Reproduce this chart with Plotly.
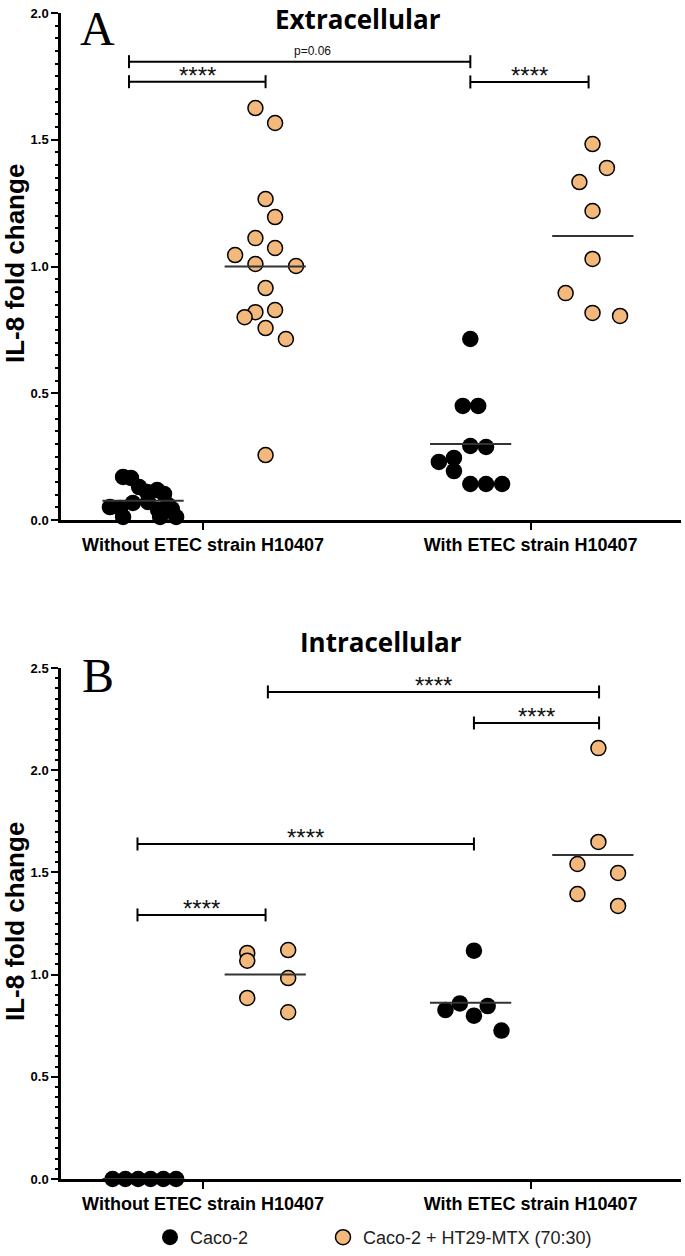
import plotly.graph_objects as go

W, H = 685, 1256

categories = ["Without ETEC strain H10407", "With ETEC strain H10407"]
series_names = ["Caco-2", "Caco-2 + HT29-MTX (70:30)"]
panel_titles = ["Extracellular", "Intracellular"]
panel_letters = ["A", "B"]
y_title = "IL-8 fold change"

# ---------------- Panel A : Extracellular ----------------
a_caco_without_x = [0.756, 0.780, 0.805, 0.829, 0.860, 0.881, 0.716, 0.747, 0.786,
                    0.832, 0.893, 0.863, 0.756, 0.869, 0.918, 0.905]
a_caco_without_y = [0.170, 0.166, 0.130, 0.110, 0.118, 0.103, 0.051, 0.047, 0.067,
                    0.071, 0.059, 0.039, 0.012, 0.012, 0.012, 0.043]
a_mix_without_x = [1.160, 1.220, 1.191, 1.220, 1.160, 1.220, 1.098, 1.160, 1.284,
                   1.191, 1.160, 1.220, 1.127, 1.191, 1.253, 1.191]
a_mix_without_y = [1.625, 1.566, 1.266, 1.195, 1.112, 1.073, 1.045, 1.010, 1.002,
                   0.915, 0.820, 0.828, 0.800, 0.757, 0.714, 0.256]
a_caco_with_x = [1.816, 1.793, 1.840, 1.816, 1.864, 1.766, 1.720, 1.766, 1.816, 1.864, 1.913]
a_caco_with_y = [0.714, 0.450, 0.450, 0.292, 0.288, 0.245, 0.229, 0.193, 0.142, 0.142, 0.142]
a_mix_with_x = [2.189, 2.233, 2.149, 2.189, 2.189, 2.107, 2.189, 2.273]
a_mix_with_y = [1.483, 1.389, 1.333, 1.219, 1.030, 0.895, 0.817, 0.805]
a_means = [0.076, 1.00, 0.30, 1.12]   # caco/without, mix/without, caco/with, mix/with

a_br_x0 = [0.774, 0.774, 1.816]
a_br_x1 = [1.816, 1.191, 2.177]
a_br_y = [1.808, 1.729, 1.728]
a_br_label = ["p=0.06", "****", "****"]
a_br_label_x = [1.333, 0.983, 1.996]

# ---------------- Panel B : Intracellular ----------------
b_caco_without_x = [0.724, 0.763, 0.802, 0.840, 0.879, 0.918]
b_caco_without_y = [0.0, 0.0, 0.0, 0.0, 0.0, 0.0]
b_mix_without_x = [1.135, 1.135, 1.260, 1.260, 1.135, 1.260]
b_mix_without_y = [1.106, 1.068, 1.120, 0.983, 0.886, 0.816]
b_caco_with_x = [1.827, 1.784, 1.869, 1.740, 1.827, 1.911]
b_caco_with_y = [1.117, 0.859, 0.846, 0.827, 0.799, 0.726]
b_mix_with_x = [2.207, 2.207, 2.143, 2.267, 2.143, 2.267]
b_mix_with_y = [2.108, 1.649, 1.541, 1.497, 1.394, 1.336]
b_means = [0.0, 1.00, 0.862, 1.585]

b_br_x0 = [1.198, 1.827, 0.800, 0.800]
b_br_x1 = [2.209, 2.209, 1.827, 1.191]
b_br_y = [2.383, 2.231, 1.639, 1.292]
b_br_label = ["****", "****", "****", "****"]
b_br_label_x = [1.703, 2.018, 1.313, 0.996]

# ---------------- styling ----------------
BLACK = "#000000"
ORANGE = "#F3B87C"
SANS = "Liberation Sans, Arial, sans-serif"
group_offset = [-0.183, 0.19, -0.183, 0.19]
group_cat = [1, 1, 2, 2]
half_w = 0.124

fig = go.Figure()

panels = [
    dict(ax="", groups=[(a_caco_without_x, a_caco_without_y, 0), (a_mix_without_x, a_mix_without_y, 1),
                        (a_caco_with_x, a_caco_with_y, 0), (a_mix_with_x, a_mix_with_y, 1)],
         means=a_means, br=(a_br_x0, a_br_x1, a_br_y, a_br_label, a_br_label_x)),
    dict(ax="2", groups=[(b_caco_without_x, b_caco_without_y, 0), (b_mix_without_x, b_mix_without_y, 1),
                         (b_caco_with_x, b_caco_with_y, 0), (b_mix_with_x, b_mix_with_y, 1)],
         means=b_means, br=(b_br_x0, b_br_x1, b_br_y, b_br_label, b_br_label_x)),
]

legend_ids = ["legend", "legend2"]
shown = set()
for p in panels:
    xa, ya = "x" + p["ax"], "y" + p["ax"]
    for gi, (gx, gy, s) in enumerate(p["groups"]):
        if s == 0:
            marker = dict(color=BLACK, size=16.5, line=dict(width=0))
        else:
            marker = dict(color=ORANGE, size=15, line=dict(color=BLACK, width=1.5))
        fig.add_trace(go.Scatter(
            x=gx, y=gy, mode="markers", marker=marker, xaxis=xa, yaxis=ya,
            name=series_names[s], legendgroup=series_names[s], legend=legend_ids[s],
            showlegend=(s not in shown), cliponaxis=False, hoverinfo="skip"))
        shown.add(s)
    # mean lines
    for gi, m in enumerate(p["means"]):
        c = group_cat[gi] + group_offset[gi]
        fig.add_trace(go.Scatter(
            x=[c - half_w, c + half_w], y=[m, m], mode="lines",
            line=dict(color="#333333", width=2), xaxis=xa, yaxis=ya,
            showlegend=False, cliponaxis=False, hoverinfo="skip"))
    # significance brackets
    x0s, x1s, ys, labs, lxs = p["br"]
    for x0, x1, yv, lab, lx in zip(x0s, x1s, ys, labs, lxs):
        fig.add_shape(type="line", xref=xa, yref=ya, x0=x0, x1=x1, y0=yv, y1=yv,
                      line=dict(color=BLACK, width=2))
        for xe in (x0, x1):
            fig.add_shape(type="line", xref=xa, yref=ya, x0=xe, x1=xe,
                          ysizemode="pixel", yanchor=yv, y0=-6.5, y1=6.5,
                          line=dict(color=BLACK, width=2))
        small = lab.startswith("p")
        fig.add_annotation(x=lx, y=yv, xref=xa, yref=ya, text=lab, showarrow=False,
                           xanchor="center", yanchor="bottom",
                           yshift=2 if small else -9,
                           font=dict(family=SANS, size=12 if small else 24, color="#111111"))

def px2py(y):
    return 1 - y / H

def px2px(x):
    return x / W

xdom = [px2px(61), px2px(681)]
xcommon = dict(domain=xdom, range=[0.5665, 2.4591], tickvals=[1, 2], ticktext=categories,
               ticks="outside", ticklen=7, tickwidth=2, tickcolor=BLACK,
               showline=True, linewidth=2.5, linecolor=BLACK, showgrid=False, zeroline=False,
               tickfont=dict(family=SANS, size=18, color=BLACK, weight="bold"), fixedrange=True)
ycommon = dict(dtick=0.5, tick0=0, tickformat=".1f", ticks="outside", ticklen=7, tickwidth=2,
               tickcolor=BLACK, showline=True, linewidth=2.5, linecolor=BLACK,
               showgrid=False, zeroline=False,
               minor=dict(dtick=0.05, tick0=0, ticks="outside", ticklen=3.5, tickwidth=1.5,
                          tickcolor=BLACK, showgrid=False),
               tickfont=dict(family=SANS, size=13, color=BLACK, weight="bold"), fixedrange=True)

legend_common = dict(orientation="h", xanchor="left", y=0, yanchor="bottom",
                     font=dict(family=SANS, size=18, color="#222222"),
                     itemsizing="trace", bgcolor="rgba(0,0,0,0)")

fig.update_layout(
    width=W, height=H, autosize=False,
    margin=dict(l=0, r=0, t=0, b=0, autoexpand=False),
    paper_bgcolor="white", plot_bgcolor="white",
    xaxis=dict(**xcommon, anchor="y"),
    yaxis=dict(**ycommon, domain=[px2py(520), px2py(13)], range=[0, 2.0], anchor="x"),
    xaxis2=dict(**xcommon, anchor="y2"),
    yaxis2=dict(**ycommon, domain=[px2py(1179), px2py(668)], range=[0, 2.5], anchor="x2"),
    showlegend=True,
    legend=dict(**legend_common, x=px2px(150)),
    legend2=dict(**legend_common, x=px2px(323)),
)

# titles, panel letters, y-axis titles
for title, cx, cy in zip(panel_titles, [358, 381], [19.0, 641.9]):
    fig.add_annotation(x=px2px(cx), y=px2py(cy), xref="paper", yref="paper", text=title,
                       showarrow=False, xanchor="center", yanchor="middle",
                       font=dict(family="Open Sans, sans-serif", size=26, color=BLACK, weight="bold"))
for letter, cx, cy in zip(panel_letters, [98, 97.5], [28.2, 675.1]):
    fig.add_annotation(x=px2px(cx), y=px2py(cy), xref="paper", yref="paper", text=letter,
                       showarrow=False, xanchor="center", yanchor="middle",
                       font=dict(family="Liberation Serif, Times New Roman, serif", size=48, color=BLACK))
for cy in [264, 922]:
    fig.add_annotation(x=px2px(15), y=px2py(cy), xref="paper", yref="paper", text=y_title,
                       showarrow=False, textangle=-90, xanchor="center", yanchor="middle",
                       font=dict(family=SANS, size=26, color=BLACK, weight="bold"))

fig.write_html("out.html", config={"displayModeBar": False},
               post_script="document.body.style.margin='0';document.body.style.overflow='hidden';")
